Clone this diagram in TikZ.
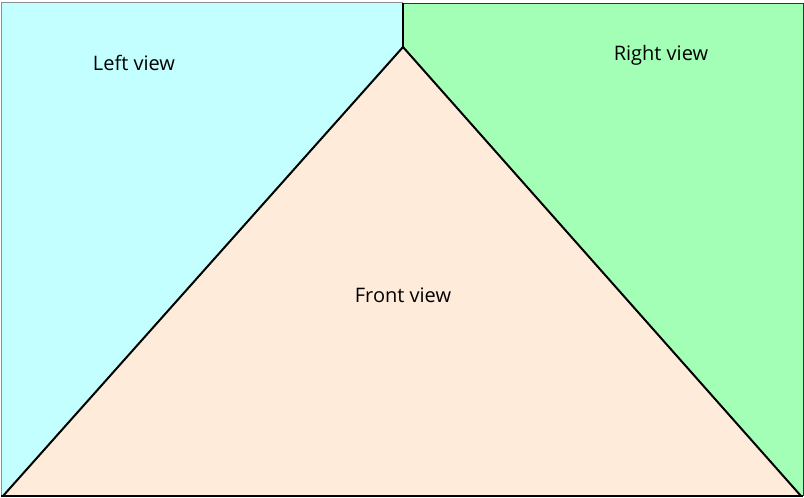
\documentclass[tikz,border=0pt]{standalone}
\usepackage{fontspec}
\setmainfont{Open Sans}
\usepackage{tikz}
\usetikzlibrary{positioning,calc}
\definecolor{leftcol}{HTML}{C4FFFF}
\definecolor{rightcol}{HTML}{A3FFB5}
\definecolor{frontcol}{HTML}{FFEBD9}
\tikzset{
  edge/.style  = {draw=black, line width=2pt, line join=miter},
  rim/.style   = {draw=black!45, line width=1pt},
  label/.style = {font=\fontsize{20}{24}\selectfont, inner sep=0pt},
}
\begin{document}
\begin{tikzpicture}[x=1pt,y=-1pt]
\useasboundingbox (0,0) rectangle (804,498);
\coordinate (tl) at (1,2);
\coordinate (tm) at (403,3);
\coordinate (tr) at (803,3);
\coordinate (ap) at (403,47);
\coordinate (bl) at (3,496);
\coordinate (br) at (801,496);
\coordinate (brr) at (803,496);
\coordinate (bll) at (1,496);
% regions
\fill[leftcol] (tl) -- (403,2) -- (ap) -- (bl) -- (bll) -- cycle;
\fill[rightcol] (tm) -- (tr) -- (brr) -- (br) -- (ap) -- cycle;
\fill[frontcol] (ap) -- (bl) -- (br) -- cycle;
% rims
\draw[rim] (bll) -- (tl) -- (403,2);
\draw[draw=black!80, line width=1pt] (tm) -- (tr) -- (brr);
% fold lines
\draw[edge] (tm) -- (ap);
\draw[edge] (bl) -- (ap) -- (br);
\draw[edge] (bll) -- (brr);
% labels
\node[label] (leftv) at (134,63) {Left view};
\node[label] (rightv) at (661,55) {Right view};
\node[label] (frontv) at (403,295) {Front view};
\end{tikzpicture}
\end{document}
